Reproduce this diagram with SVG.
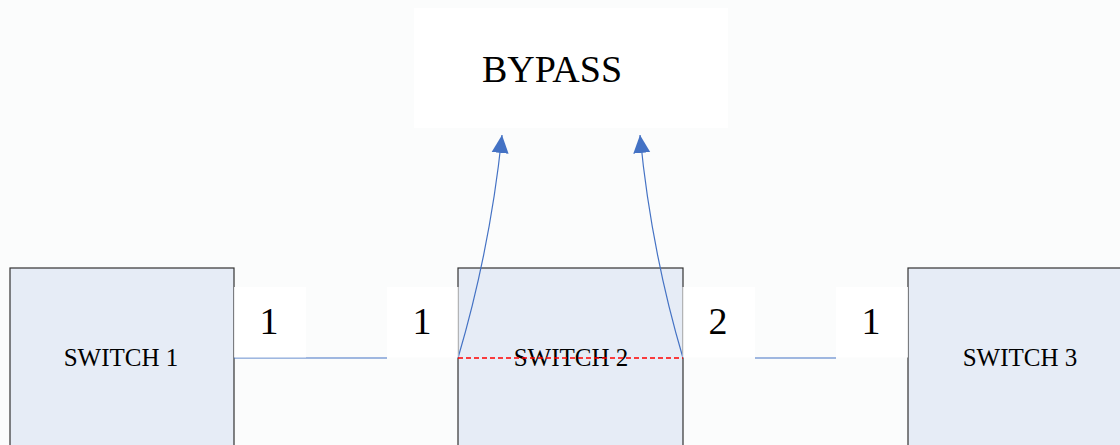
<svg xmlns="http://www.w3.org/2000/svg" width="1120" height="445" viewBox="0 0 1120 445">
<style>
.sw{fill:#e6ecf6;stroke:#333333;stroke-width:1.2}
.lbl{fill:#ffffff}
.big{font-family:"Liberation Serif",serif;font-size:38px;fill:#000;text-anchor:middle}
.sm{font-family:"Liberation Serif",serif;font-size:25px;fill:#000;text-anchor:middle}
.ln{stroke:#4472c4;stroke-width:1.2;fill:none}
</style>
<defs>
<marker id="ah" markerUnits="userSpaceOnUse" markerWidth="20" markerHeight="20" viewBox="0 0 20 20" refX="18" refY="10" orient="auto">
<path d="M0,1.5 L18,10 L0,18.5 Z" fill="#4472c4"/>
</marker>
</defs>
<rect width="1120" height="445" fill="#fbfcfc"/>
<g id="bypass">
<rect class="lbl" x="414" y="8" width="314" height="120"/>
<text class="big" x="552" y="82">BYPASS</text>
</g>
<g id="switch1">
<rect class="sw" x="10" y="268" width="224" height="190"/>
<text class="sm" x="121" y="366">SWITCH 1</text>
</g>
<g id="switch2">
<rect class="sw" x="458" y="268" width="225" height="190"/>
<text class="sm" x="571" y="366">SWITCH 2</text>
</g>
<g id="switch3">
<rect class="sw" x="908" y="268" width="224" height="190"/>
<text class="sm" x="1020" y="366">SWITCH 3</text>
</g>
<g id="connectors">
<line class="ln" x1="234" y1="358" x2="387" y2="358"/>
<line class="ln" x1="755" y1="358" x2="836" y2="358"/>
<path class="ln" d="M458,358 Q490,250 502,135" marker-end="url(#ah)"/>
<path class="ln" d="M683,358 Q651,250 640,135" marker-end="url(#ah)"/>
</g>
<g id="port-s1-1">
<rect class="lbl" x="234" y="287" width="72" height="70.5" opacity="0.85"/>
<text class="big" x="269" y="334">1</text>
</g>
<g id="port-s2-1">
<rect class="lbl" x="387" y="287" width="71.5" height="70.5" opacity="0.85"/>
<text class="big" x="422" y="334">1</text>
</g>
<g id="port-s2-2">
<rect class="lbl" x="682.5" y="287" width="72.5" height="70.5" opacity="0.85"/>
<text class="big" x="718" y="334">2</text>
</g>
<g id="port-s3-1">
<rect class="lbl" x="836" y="287" width="72" height="70.5" opacity="0.85"/>
<text class="big" x="871" y="334">1</text>
</g>
<g id="bypass-link">
<line x1="458" y1="358" x2="683" y2="358" stroke="#ff0000" stroke-width="1.3" stroke-dasharray="5,3"/>
</g>
</svg>
